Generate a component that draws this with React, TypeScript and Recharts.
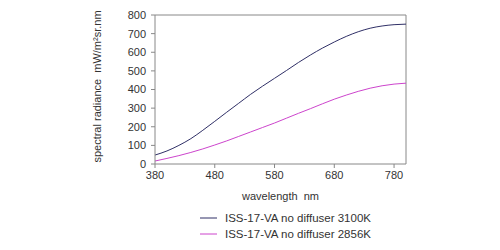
import { LineChart, Line, XAxis, YAxis, ReferenceLine, Label } from 'recharts';

// wavelength (nm) and radiance
const wavelengths = [380, 400, 420, 440, 460, 480, 500, 520, 540, 560, 580, 600, 620, 640, 660, 680, 700, 720, 740, 760, 780, 800];
const radiance3100 = [48, 70, 100, 136, 181, 229, 278, 326, 374, 418, 460, 502, 545, 585, 622, 655, 685, 710, 729, 741, 748, 751];
const radiance2856 = [16, 30, 45, 62, 81, 102, 124, 148, 172, 196, 220, 246, 272, 297, 323, 348, 370, 390, 407, 420, 429, 434];
const xTicks = [380, 480, 580, 680, 780];
const yTicks = [0, 100, 200, 300, 400, 500, 600, 700, 800];
const seriesNames = ['ISS-17-VA no diffuser 3100K', 'ISS-17-VA no diffuser 2856K'];

const data = wavelengths.map((w, i) => ({
  wl: w,
  k3100: radiance3100[i],
  k2856: radiance2856[i],
}));

const NAVY = '#2f2f66';
const PINK = '#cc44cc';
const AXIS = '#888888';
const TEXT = '#333333';
const seriesColors = [NAVY, PINK];

export default function App() {
  return (
    <div style={{ position: 'absolute', left: 0, top: 0, width: 500, height: 250, fontFamily: '"Liberation Sans", Arial, sans-serif' }}>
      <LineChart width={500} height={250} data={data} margin={{ top: 15, right: 94, bottom: 56, left: 95 }}>
        <XAxis
          dataKey="wl"
          type="number"
          domain={[380, 800]}
          ticks={xTicks}
          allowDataOverflow
          height={30}
          stroke={AXIS}
          tickSize={4}
          tickMargin={3}
          tick={{ fill: TEXT, fontSize: 11 }}
        >
          <Label
            content={({ viewBox }: any) => (
              <text x={viewBox.x + viewBox.width / 2} y={viewBox.y + 36} textAnchor="middle" fill={TEXT} fontSize={11} style={{ whiteSpace: 'pre' }}>
                wavelength  nm
              </text>
            )}
          />
        </XAxis>
        <YAxis
          type="number"
          domain={[0, 800]}
          ticks={yTicks}
          width={60}
          stroke={AXIS}
          tickSize={4}
          tickMargin={5}
          tick={{ fill: TEXT, fontSize: 11 }}
        >
          <Label
            content={({ viewBox }: any) => {
              const cx = viewBox.x + 6;
              const cy = viewBox.y + viewBox.height / 2 - 3;
              return (
                <text x={cx} y={cy} transform={`rotate(-90 ${cx} ${cy})`} textAnchor="middle" fill={TEXT} fontSize={11} style={{ whiteSpace: 'pre' }}>
                  spectral radiance  mW/m²sr.nm
                </text>
              );
            }}
          />
        </YAxis>
        <ReferenceLine y={800} stroke={AXIS} />
        <ReferenceLine x={800} stroke={AXIS} />
        <Line type="monotone" dataKey="k3100" name={seriesNames[0]} stroke={NAVY} strokeWidth={1} dot={false} isAnimationActive={false} />
        <Line type="monotone" dataKey="k2856" name={seriesNames[1]} stroke={PINK} strokeWidth={1} dot={false} isAnimationActive={false} />
      </LineChart>
      <div style={{ position: 'absolute', left: 200, top: 210 }}>
        {seriesNames.map((name, i) => (
          <div key={name} style={{ display: 'flex', alignItems: 'center', height: 16 }}>
            <svg width={25} height={16}>
              <line x1={0} x2={17} y1={8} y2={8} stroke={seriesColors[i]} strokeWidth={1} />
            </svg>
            <span style={{ color: TEXT, fontSize: 11.5, whiteSpace: 'nowrap' }}>{name}</span>
          </div>
        ))}
      </div>
    </div>
  );
}
